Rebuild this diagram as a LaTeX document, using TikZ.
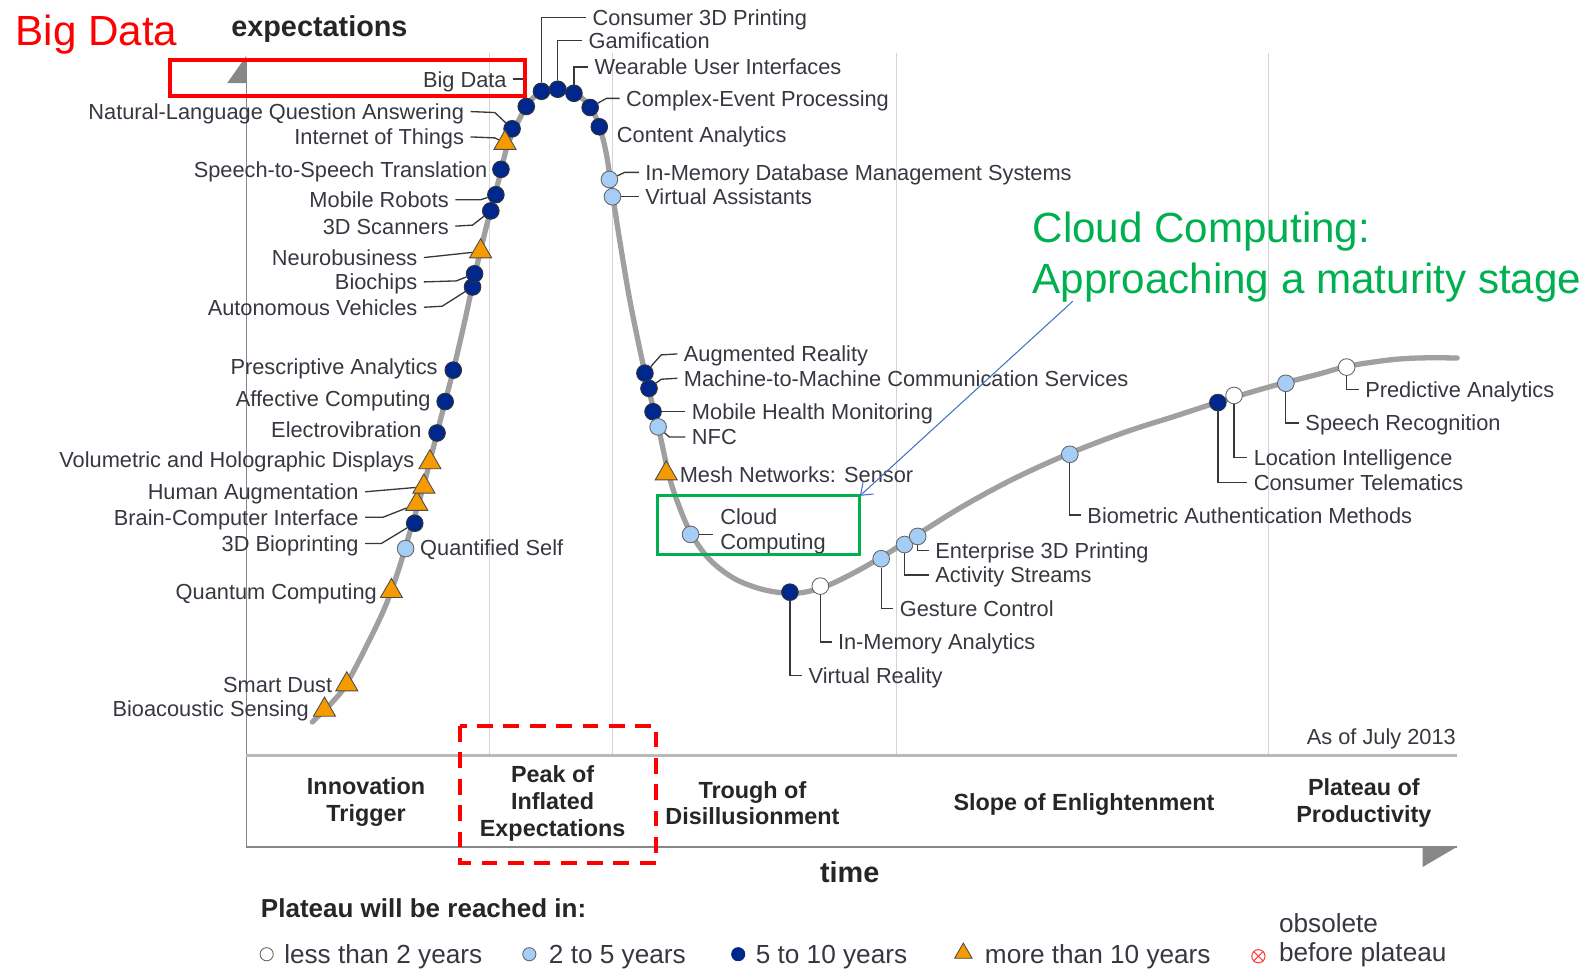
\documentclass[tikz,border=0pt]{standalone}
\usepackage{fontspec}
\setmainfont{Liberation Sans}
\usetikzlibrary{shapes.geometric, arrows.meta}
\definecolor{dkblue}{RGB}{0,40,140}
\definecolor{ltblue}{RGB}{165,205,245}
\definecolor{orng}{RGB}{245,155,0}
\definecolor{curvegray}{RGB}{160,160,160}
\definecolor{gridgray}{RGB}{212,212,212}
\definecolor{axisgray}{RGB}{135,135,135}
\definecolor{txtgray}{RGB}{55,55,65}
\definecolor{bdred}{RGB}{255,0,0}
\definecolor{ccgreen}{RGB}{0,176,80}
\definecolor{ccblue}{RGB}{68,114,196}
\tikzset{
  hype/.style={curvegray, line width=3pt, line cap=round},
  gridline/.style={gridgray, line width=0.7pt},
  leader/.style={txtgray, line width=0.75pt},
  lbl/.style={font=\fontsize{12.4}{14}\selectfont, text=txtgray, inner xsep=3.5pt, inner ysep=0pt, text height=9pt, text depth=0pt},
  phase/.style={font=\bfseries\fontsize{13.3}{15.3}\selectfont, align=center, text=black!85},
  legend/.style={font=\fontsize{14.9}{17}\selectfont, text=txtgray, inner sep=0pt},
  dk/.style={circle, draw=black!80, line width=0.5pt, fill=dkblue, minimum size=9.5pt, inner sep=0pt},
  lt/.style={dk, fill=ltblue, draw=black!60},
  wh/.style={dk, fill=white, draw=black!60},
  tri/.style={regular polygon, regular polygon sides=3, draw=black!70, line width=0.5pt, fill=orng, minimum size=14.5pt, inner sep=0pt},
}
\begin{document}
\begin{tikzpicture}[x=0.02028cm, y=-0.02028cm]
    \useasboundingbox (0,0) rectangle (1568,957);
    \foreach \x in {483, 604, 884, 1251}
        \draw[gridline] (\x,52) -- (\x,745);
    \draw[axisgray, line width=0.9pt] (243,835) -- (243,60);
    \fill[axisgray] (224,82) -- (243,55) -- (243,82) -- cycle;
    \draw[gray!55, line width=1.8pt] (243,745) -- (1437,745);
    \draw[axisgray, line width=1.3pt] (243,835) -- (1437,835);
    \fill[axisgray] (1403,835) -- (1437,835) -- (1403,855) -- cycle;
    \draw[hype] plot[smooth, tension=0.55] coordinates {(308,712) (330,690) (342,674) (362,636) (380,598) (393,562) (405,522) (418,478) (431,427) (447,365) (458,318) (468,272) (480,222) (492,177) (500,145) (510,122) (521,102) (534,90) (550,87) (566,91) (581,104) (591,124) (598,152) (603,185) (610,230) (620,290) (630,340) (640,385) (650,425) (660,470) (670,500) (682,527) (700,552) (725,571) (755,582) (785,585) (812,579) (840,566) (870,549) (905,527) (950,499) (1000,472) (1055,447) (1110,426) (1160,410) (1200,397) (1250,382) (1300,369) (1330,361) (1370,355) (1400,353) (1437,353)};
    \foreach \m/\x/\y in {biopr/409/516, elect/431/427, affec/439/396, presc/447/365, auton/466/283, bioch/468/270, scan/484/208, robot/489/192, speech/494/167, nlqa/505/127, bigd/519/105, cthree/534/90, gami/550/88, wear/566/92, cep/582/106, cont/591/125, augr/636/368, mtm/640/383, mhm/644/406, vr/779/584, tele/1201/397}
        \node[dk] (m\m) at (\x,\y) {};
    \foreach \m/\x/\y in {qself/400/541, imdb/601/177, vass/604/194, nfc/649/421, cloud/681/527, gest/869/551, act/892/537, ethree/905/529, bio/1055/448, speechr/1268/378}
        \node[lt] (m\m) at (\x,\y) {};
    \foreach \m/\x/\y in {ima/809/578, loc/1217/390, pred/1328/362}
        \node[wh] (m\m) at (\x,\y) {};
    \foreach \m/\x/\y in {bioac/320/700, smart/342/675, quant/386/583, bci/411/497, human/418/480, volum/424/456, neuro/474/248, iot/498/141, mesh/657/467}
        \node[tri] (m\m) at (\x,\y) {};
    \foreach \m/\x/\y/\t in {bigd/506/78/Big Data, nlqa/464/110/Natural-Language Question Answering, iot/464/135/Internet of Things, speech/487/167/Speech-to-Speech Translation, robot/449/197/Mobile Robots, scan/449/223/3D Scanners, neuro/418/254/Neurobusiness, bioch/418/278/Biochips, auton/418/303/Autonomous Vehicles, presc/438/362/Prescriptive Analytics, affec/431/393/Affective Computing, elect/422/424/Electrovibration, volum/415/453/Volumetric and Holographic Displays, human/360/485/Human Augmentation, bci/360/510/Brain-Computer Interface, biopr/360/536/3D Bioprinting, quant/378/583/Quantum Computing, smart/334/675/Smart Dust, bioac/311/699/Bioacoustic Sensing}
        \node[lbl, anchor=east] (l\m) at (\x,\y) {\t};
    \foreach \m/\x/\y/\t in {qself/408/540/Quantified Self, cthree/578/17/Consumer 3D Printing, gami/574/40/Gamification, wear/580/66/Wearable User Interfaces, cep/611/97/Complex-Event Processing, cont/602/133/Content Analytics, imdb/630/170/In-Memory Database Management Systems, vass/630/194/Virtual Assistants, augr/668/349/Augmented Reality, mtm/668/373/Machine-to-Machine Communication Services, mhm/676/406/Mobile Health Monitoring, nfc/676/431/NFC, mesh/664/468/Mesh Networks: Sensor, vr/791/666/Virtual Reality, ima/820/633/In-Memory Analytics, gest/881/600/Gesture Control, act/916/567/Activity Streams, ethree/916/543/Enterprise 3D Printing, bio/1066/508/Biometric Authentication Methods, tele/1230/476/Consumer Telematics, loc/1230/451/Location Intelligence, speechr/1281/417/Speech Recognition, pred/1340/384/Predictive Analytics}
        \node[lbl, anchor=west] (l\m) at (\x,\y) {\t};
    \node[font=\fontsize{12.4}{13.8}\selectfont, text=txtgray, align=left, inner sep=0pt, anchor=west] (lcloud) at (710,524) {Cloud\\Computing};
    \draw[leader] (lbigd.east) -- ++(10,0);
    \draw[leader] (lnlqa.east) -- (488,111) -- (mnlqa);
    \draw[leader] (liot.east) -- (488,136) -- (miot);
    \draw[leader] (lrobot.east) -- (474,197) -- (mrobot);
    \draw[leader] (lscan.east) -- (466,222) -- (mscan);
    \draw[leader] (lneuro.east) -- (mneuro);
    \draw[leader] (lbioch.east) -- (450,277) -- (mbioch);
    \draw[leader] (lauton.east) -- (436,302) -- (mauton);
    \draw[leader] (lhuman.east) -- (mhuman);
    \draw[leader] (lbci.east) -- (378,510) -- (mbci);
    \draw[leader] (lbiopr.east) -- (376,536) -- (mbiopr);
    \draw[leader] (mcthree) |- (lcthree.west);
    \draw[leader] (mgami) |- (lgami.west);
    \draw[leader] (mwear) |- (lwear.west);
    \draw[leader] (mcep) -- (598,97) -- (lcep.west);
    \draw[leader] (mimdb) -- (616,170) -- (limdb.west);
    \draw[leader] (mvass) -- (lvass.west);
    \draw[leader] (maugr) -- (652,350) -- (laugr.west);
    \draw[leader] (mmtm) -- (652,374) -- (lmtm.west);
    \draw[leader] (mmhm) -- (lmhm.west);
    \draw[leader] (mnfc) -- (660,431) -- (lnfc.west);
    \draw[leader, shorten >=4pt] (mcloud) -- (mcloud -| lcloud.west);
    \foreach \m in {vr, ima, gest, act, ethree, bio, tele, loc, speechr, pred}
        \draw[leader] (m\m) |- (l\m.west);
    \node[font=\fontsize{24}{28}\selectfont, text=bdred, anchor=base west, inner sep=0pt] (bdtitle) at (15,45) {Big Data};
    \node[font=\bfseries\fontsize{16.4}{18}\selectfont, text=black!85, anchor=base, inner sep=0pt] (yname) at (315,36) {expectations};
    \node[font=\bfseries\fontsize{16.4}{18}\selectfont, text=black!85, anchor=base, inner sep=0pt] (xname) at (838,870) {time};
    \draw[bdred, line width=2.3pt] (168,59) rectangle (518,95);
    \draw[ccgreen, line width=1.8pt] (648,489) rectangle (848,547);
    \draw[bdred, line width=2.3pt, dash pattern=on 9pt off 6pt] (454,716) rectangle (647,851);
    \node[font=\fontsize{24}{28}\selectfont, text=ccgreen, anchor=base west, inner sep=0pt] (cctitle) at (1018,239) {Cloud Computing:};
    \node[font=\fontsize{24}{28}\selectfont, text=ccgreen, anchor=base west, inner sep=0pt] (ccnote) at (1018,289) {Approaching a maturity stage};
    \coordinate (ccfrom) at (1058,297);
    \coordinate (ccto) at (848,489);
    \draw[ccblue, line width=0.6pt, -{Straight Barb[length=6pt, width=9pt]}] (ccfrom) -- (ccto);
    \node[phase] (ptrig) at (361,791) {Innovation\\Trigger};
    \node[phase] (ppeak) at (545,792) {Peak of\\Inflated\\Expectations};
    \node[phase] (ptrough) at (742,792) {Trough of\\Disillusionment};
    \node[phase] (pslope) at (1069,793) {Slope of Enlightenment};
    \node[phase] (pplat) at (1345,792) {Plateau of\\Productivity};
    \node[lbl, inner sep=0pt, anchor=base east] (asof) at (1436,734) {As of July 2013};
    \node[legend, font=\bfseries\fontsize{14.8}{17}\selectfont, text=black!85, anchor=base west] (lghead) at (257,905) {Plateau will be reached in:};
    \node[wh, minimum size=7.5pt] (kwh) at (263,941) {};
    \node[lt, minimum size=7.5pt] (klt) at (522,941) {};
    \node[dk, minimum size=7.5pt, draw=dkblue] (kdk) at (728,941) {};
    \node[tri, minimum size=11.5pt] (ktri) at (950,940) {};
    \node[circle, draw=red!75, line width=0.6pt, minimum size=7.5pt, inner sep=0pt] (kobs) at (1241,943) {};
    \draw[red!75, line width=0.6pt] (kobs.north west) -- (kobs.south east) (kobs.north east) -- (kobs.south west);
    \node[legend, anchor=base west] (twh) at (280,950) {less than 2 years};
    \node[legend, anchor=base west] (tlt) at (541,950) {2 to 5 years};
    \node[legend, anchor=base west] (tdk) at (745,950) {5 to 10 years};
    \node[legend, anchor=base west] (ttri) at (971,950) {more than 10 years};
    \node[legend, anchor=base west] (tobs) at (1261,920) {obsolete};
    \node[legend, anchor=base west] (tbef) at (1261,948) {before plateau};
\end{tikzpicture}
\end{document}
